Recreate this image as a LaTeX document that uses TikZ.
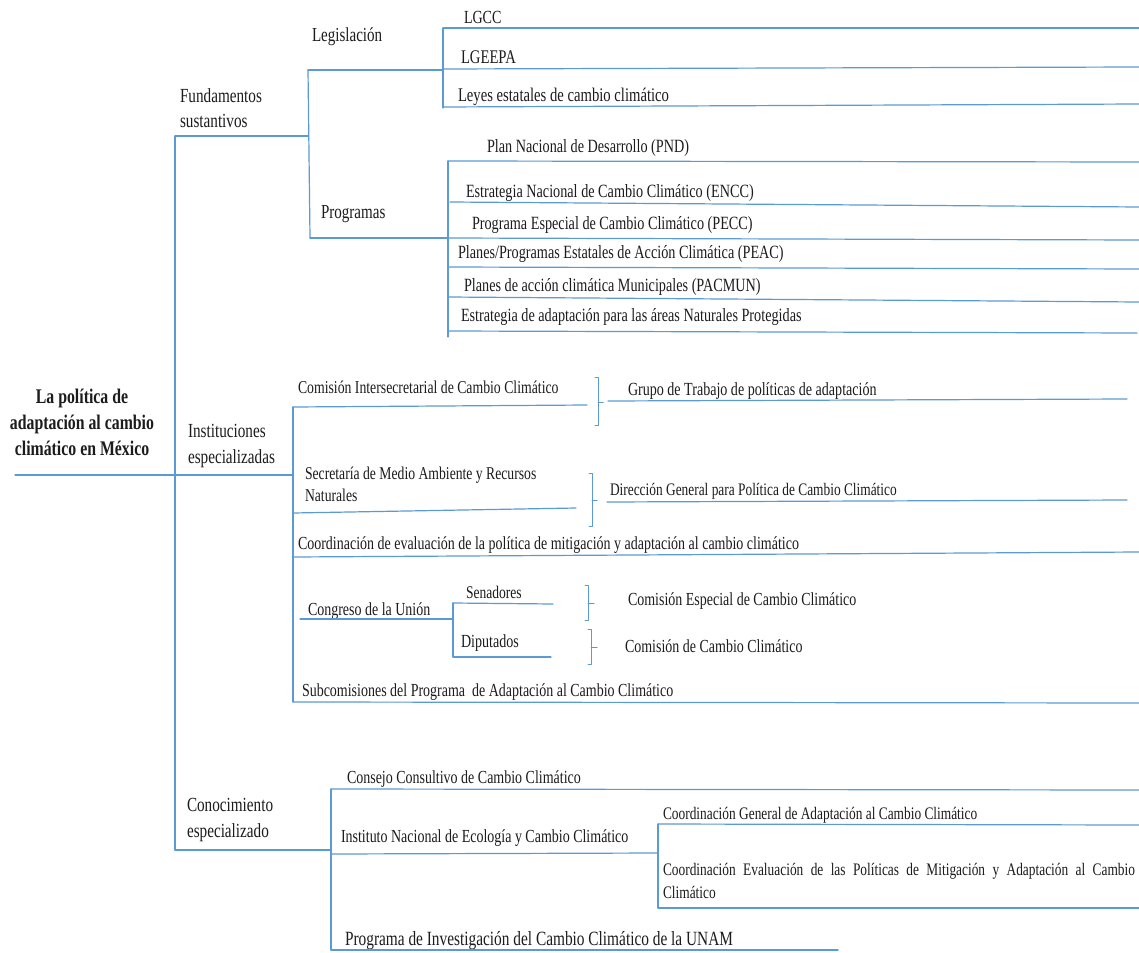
\documentclass[tikz,border=0pt]{standalone}
\usepackage{fontspec}
\setmainfont{Liberation Serif}[FakeStretch=0.76]
\definecolor{lnblue}{HTML}{5B9BD5}
\definecolor{txt}{HTML}{1C1C1C}
\newcommand\fsz[2]{\fontsize{#1pt}{#2pt}\selectfont}

\begin{document}
\begin{tikzpicture}[x=1pt,y=-1pt,
  conn/.style={draw=lnblue, line width=1.2pt, line cap=round, line join=round},
  lbl/.style={anchor=base west, inner sep=0pt, outer sep=0pt, text=txt, align=left},
  rootlbl/.style={anchor=base, inner sep=0pt, text=txt, align=center, font=\bfseries\fsz{20.8}{26}},
  head/.style={lbl, font=\fsz{20}{25.5}},
  sub/.style={lbl, font=\fsz{19.8}{24}},
  law/.style={lbl, font=\fsz{19.3}{22}},
  prog/.style={lbl, font=\fsz{18.7}{22}},
  item/.style={lbl, font=\fsz{18.4}{22}},
  small/.style={lbl, font=\fsz{17.6}{23}},
  big/.style={lbl, font=\fsz{20.2}{23}}]

\fill[white] (0,0) rectangle (1139,952);
\useasboundingbox (0,0) rectangle (1139,952);

% ---------- root and main spine ----------
\node[rootlbl] (root) at (82,455) {La política de\\adaptación al cambio\\climático en México};
\coordinate (rootL) at (15,475);
\coordinate (spTop) at (175,136);
\coordinate (spBot) at (175,850);
\draw[conn] (spTop) -- (spBot);

% ---------- Fundamentos sustantivos ----------
\node[head] (fund) at (180,128) {Fundamentos\\sustantivos};
\coordinate (fJ) at (308,136);
\coordinate (fTop) at (308,70);
\coordinate (fBot) at (310,238);
\draw[conn] (spTop) -- (fJ);
\draw[conn] (fTop) -- (fBot);

\node[sub] (legis) at (312,42) {Legislación};
\node[sub] (progs) at (321,218) {Programas};

% Legislación branch
\coordinate (lJ) at (443,70);
\coordinate (lTop) at (443,28);
\coordinate (lBot) at (443,108);
\draw[conn] (fTop) -- (lJ);
\draw[conn] (lTop) -- (lBot);

\node[law, font=\fsz{18.5}{22}] (lgcc) at (464,24) {LGCC};
\node[law] (lgeepa) at (461,64) {LGEEPA};
\node[law] (leyes) at (458,102) {Leyes estatales de cambio climático};
\coordinate (lgccE) at (1139,28);
\coordinate (lgeepaL) at (443,69);
\coordinate (lgeepaE) at (1139,67);
\coordinate (leyesL) at (443,107);
\coordinate (leyesE) at (1139,104);
\draw[conn] (lTop) -- (lgccE);
\draw[conn] (lgeepaL) -- (lgeepaE);
\draw[conn] (leyesL) -- (leyesE);

% Programas branch
\coordinate (pJ) at (448,238);
\coordinate (pTop) at (448,161);
\coordinate (pBot) at (448,337);
\draw[conn] (fBot) -- (pJ);
\draw[conn] (pTop) -- (pBot);

\node[prog] (pnd) at (487,153) {Plan Nacional de Desarrollo (PND)};
\node[prog] (encc) at (466,197) {Estrategia Nacional de Cambio Climático (ENCC)};
\node[prog] (pecc) at (472,229) {Programa Especial de Cambio Climático (PECC)};
\node[prog] (peac) at (458,258) {Planes/Programas Estatales de Acción Climática (PEAC)};
\node[prog] (pacmun) at (464,291) {Planes de acción climática Municipales (PACMUN)};
\node[prog] (anp) at (461,321) {Estrategia de adaptación para las áreas Naturales Protegidas};

\coordinate (pndE) at (1139,162);
\coordinate (enccL) at (450,202);
\coordinate (enccE) at (1139,207);
\coordinate (peccE) at (1139,240);
\coordinate (peacL) at (448,267);
\coordinate (peacE) at (1139,269);
\coordinate (pacmunL) at (448,297);
\coordinate (pacmunE) at (1139,302);
\coordinate (anpL) at (448,331);
\coordinate (anpE) at (1137,333);
\draw[conn] (pTop) -- (pndE);
\draw[conn] (enccL) -- (enccE);
\draw[conn] (pJ) -- (peccE);
\draw[conn] (peacL) -- (peacE);
\draw[conn] (pacmunL) -- (pacmunE);
\draw[conn] (anpL) -- (anpE);

% ---------- Instituciones especializadas ----------
\node[head] (inst) at (188,463) {Instituciones\\especializadas};
\coordinate (iJ) at (293,475);
\coordinate (iTop) at (293,407);
\coordinate (iBot) at (293,702);
\draw[conn] (rootL) -- (iJ);
\draw[conn] (iTop) -- (iBot);

% Comisión Intersecretarial
\node[item, font=\fsz{18.1}{22}] (cicc) at (298,393) {Comisión Intersecretarial de Cambio Climático};
\coordinate (ciccE) at (587,405);
\draw[conn] (iTop) -- (ciccE);
\coordinate (b1T) at (598,377);
\coordinate (b1B) at (598,425);
\coordinate (b1M) at (598,402);
\draw[conn, line width=1pt] ([xshift=-3pt]b1T) -- (b1T) -- (b1B) -- ([xshift=-3pt]b1B);
\draw[conn, line width=1pt] (b1M) -- ([xshift=5pt]b1M);
\node[item, font=\fsz{18.5}{22}] (grupo) at (628,395) {Grupo de Trabajo de políticas de adaptación};
\coordinate (grupoL) at (608,401);
\coordinate (grupoE) at (1127,399);
\draw[conn] (grupoL) -- (grupoE);

% SEMARNAT
\node[item, font=\fsz{18}{21.5}] (semarnat) at (305,501) {Secretaría de Medio Ambiente y Recursos\\Naturales};
\coordinate (semL) at (293,513);
\coordinate (semE) at (576,508);
\draw[conn] (semL) -- (semE);
\coordinate (b2T) at (592,473);
\coordinate (b2B) at (592,526);
\coordinate (b2M) at (592,500);
\draw[conn, line width=1pt] ([xshift=-3pt]b2T) -- (b2T) -- (b2B) -- ([xshift=-3pt]b2B);
\draw[conn, line width=1pt] (b2M) -- ([xshift=5pt]b2M);
\node[item, font=\fsz{17.6}{22}] (dgpcc) at (610,495) {Dirección General para Política de Cambio Climático};
\coordinate (dgL) at (607,502);
\coordinate (dgE) at (1127,500);
\draw[conn] (dgL) -- (dgE);

% Coordinación de evaluación
\node[item] (ceval) at (298,549) {Coordinación de evaluación de la política de mitigación y adaptación al cambio climático};
\coordinate (cevL) at (293,557);
\coordinate (cevE) at (1139,552);
\draw[conn] (cevL) -- (cevE);

% Congreso de la Unión
\node[item] (congreso) at (308,615) {Congreso de la Unión};
\coordinate (cgL) at (300,619);
\coordinate (cgJ) at (453,619);
\coordinate (cgTop) at (453,603);
\coordinate (cgBot) at (453,657);
\draw[conn] (cgL) -- (cgJ);
\draw[conn] (cgTop) -- (cgBot);

\node[item, font=\fsz{17.8}{22}] (senad) at (466,598) {Senadores};
\node[item, font=\fsz{18.5}{22}] (diput) at (461,647) {Diputados};
\coordinate (senE) at (553,604);
\coordinate (dipE) at (551,657);
\draw[conn] (cgTop) -- (senE);
\draw[conn] (cgBot) -- (dipE);

\coordinate (b3T) at (588,585);
\coordinate (b3B) at (588,620);
\coordinate (b3M) at (588,603);
\draw[conn, line width=1pt] ([xshift=-3pt]b3T) -- (b3T) -- (b3B) -- ([xshift=-3pt]b3B);
\draw[conn, line width=1pt] (b3M) -- ([xshift=6pt]b3M);
\coordinate (b4T) at (591,629);
\coordinate (b4B) at (591,664);
\coordinate (b4M) at (591,647);
\draw[conn, line width=1pt] ([xshift=-3pt]b4T) -- (b4T) -- (b4B) -- ([xshift=-3pt]b4B);
\draw[conn, line width=1pt] (b4M) -- ([xshift=6pt]b4M);

\node[item] (cecc) at (628,605) {Comisión Especial de Cambio Climático};
\node[item] (ccc) at (625,652) {Comisión de Cambio Climático};

% Subcomisiones
\node[item] (subcom) at (302,696) {Subcomisiones del Programa\ \ de Adaptación al Cambio Climático};
\coordinate (subE) at (1139,703);
\draw[conn] (iBot) -- (subE);

% ---------- Conocimiento especializado ----------
\node[head] (conoc) at (187,837) {Conocimiento\\especializado};
\coordinate (kJ) at (331,850);
\coordinate (kTop) at (331,789);
\coordinate (kBot) at (331,950);
\draw[conn] (spBot) -- (kJ);
\draw[conn] (kTop) -- (kBot);

\node[item] (consejo) at (347,783) {Consejo Consultivo de Cambio Climático};
\coordinate (consE) at (1139,790);
\draw[conn] (kTop) -- (consE);

\node[item] (inecc) at (341,842) {Instituto Nacional de Ecología y Cambio Climático};
\coordinate (ineL) at (331,854);
\coordinate (ineJ) at (658,853);
\coordinate (ineTop) at (658,824);
\coordinate (ineBot) at (658,908);
\draw[conn] (ineL) -- (ineJ);
\draw[conn] (ineTop) -- (ineBot);

\node[small] (cgacc) at (663,819) {Coordinación General de Adaptación al Cambio Climático};
\coordinate (cgaE) at (1139,825);
\draw[conn] (ineTop) -- (cgaE);

\node[small] (cepm) at (663,898) {\makebox[472pt][s]{Coordinación Evaluación de las Políticas de Mitigación y Adaptación al Cambio}\\Climático};
\coordinate (cepE) at (1139,908);
\draw[conn] (ineBot) -- (cepE);

\node[big] (unam) at (345,945) {Programa de Investigación del Cambio Climático de la UNAM};
\coordinate (unamE) at (838,950);
\draw[conn] (kBot) -- (unamE);

\end{tikzpicture}
\end{document}
